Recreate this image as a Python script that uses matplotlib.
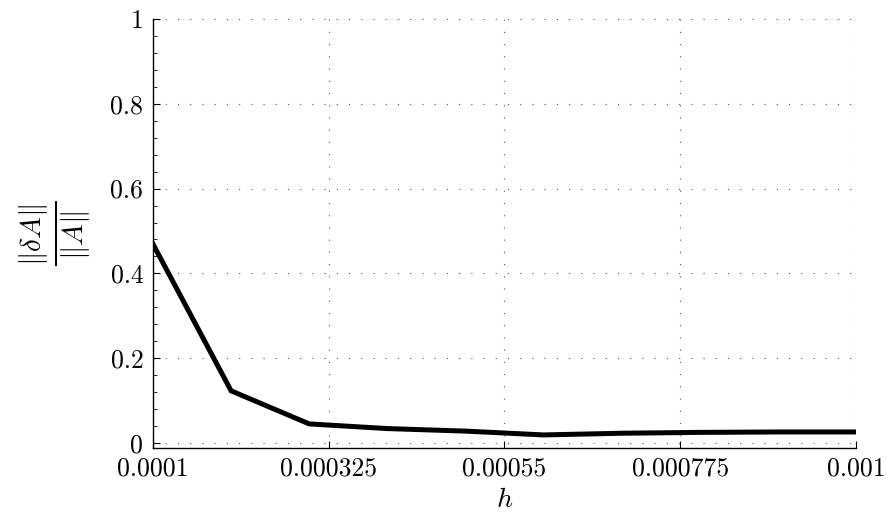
import matplotlib
matplotlib.use("Agg")
import matplotlib.pyplot as plt
from matplotlib.ticker import MultipleLocator

plt.rcParams['font.family'] = 'serif'
plt.rcParams['font.serif'] = ['cmr10']
plt.rcParams['mathtext.fontset'] = 'cm'
plt.rcParams['axes.unicode_minus'] = False

# step sizes and relative error
h = [0.0001, 0.0002, 0.0003, 0.0004, 0.0005, 0.0006, 0.0007, 0.0008, 0.0009, 0.001]
err = [0.469, 0.123, 0.045, 0.034, 0.028, 0.019, 0.023, 0.025, 0.026, 0.026]

xticks = [0.0001, 0.000325, 0.00055, 0.000775, 0.001]
xticklabels = ["0.0001", "0.000325", "0.00055", "0.000775", "0.001"]
yticks = [0, 0.2, 0.4, 0.6, 0.8, 1]
yticklabels = ["0", "0.2", "0.4", "0.6", "0.8", "1"]

fig = plt.figure(figsize=(8.86, 5.16), dpi=100)
ax = fig.add_axes([0.1727, 0.1318, 0.7934, 0.8314])

ax.plot(h, err, color='black', linewidth=3.6, solid_joinstyle='miter')

ax.set_xlim(0.0001, 0.001)
ax.set_ylim(-0.0118, 1.0)
ax.set_xticks(xticks)
ax.set_xticklabels(xticklabels)
ax.set_yticks(yticks)
ax.set_yticklabels(yticklabels)
ax.yaxis.set_minor_locator(MultipleLocator(0.04))

ax.spines['top'].set_visible(False)
ax.spines['right'].set_visible(False)
ax.spines['left'].set_linewidth(1.0)
ax.spines['bottom'].set_linewidth(1.0)

ax.tick_params(axis='both', which='major', direction='in', length=5, width=0.8,
               labelsize=18.5)
ax.tick_params(axis='x', which='major', pad=6)
ax.tick_params(axis='y', which='major', pad=7)
ax.tick_params(axis='y', which='minor', direction='in', length=3, width=0.6)

ax.grid(True, which='major', color='#555555', linewidth=0.8, linestyle=(0, (1, 10)))

ax.set_xlabel(r'$h$', fontsize=20, labelpad=5)
ax.set_ylabel(r'$\frac{\|\delta A\|}{\|A\|}$', fontsize=30, labelpad=12)

fig.savefig("out.png", dpi=100)
